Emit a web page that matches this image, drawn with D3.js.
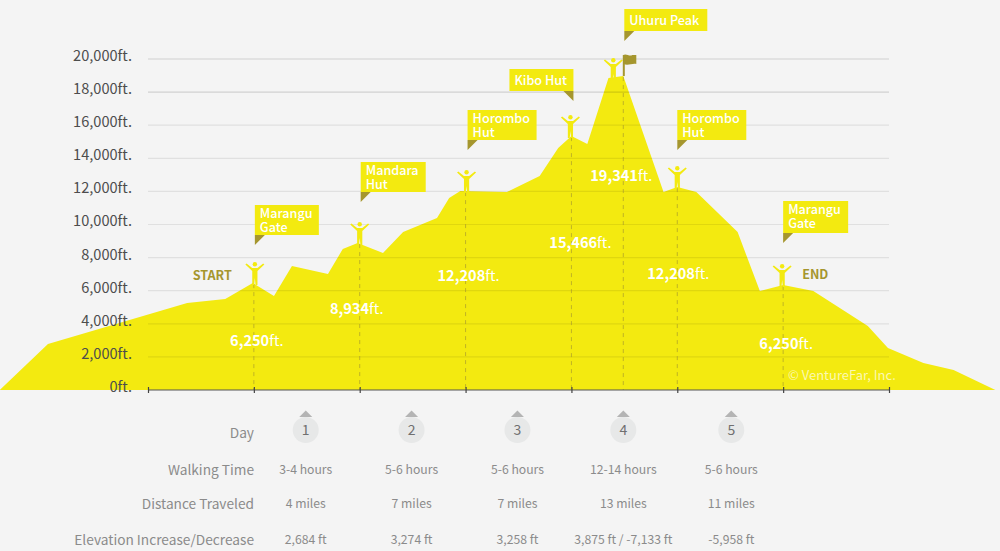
<!DOCTYPE html>
<html><head><meta charset="utf-8">
<script src="https://cdn.jsdelivr.net/npm/d3@7"></script>
<style>
html,body{margin:0;padding:0;background:#f4f4f4}
svg{display:block}
text{font-family:"Noto Sans CJK SC","Noto Sans",sans-serif}
</style></head><body><svg id="c" width="1000" height="551"></svg>
<script>
// Trail profile: position in stages (0 = first tick), elevation in feet
const trailPos = [-1.40,-0.945,0.37,0.73,0.99,1.19,1.36,1.70,1.84,1.98,2.22,2.41,2.73,2.845,2.95,3.39,3.70,3.875,4.00,4.15,4.35,4.49,4.87,5.00,5.18,5.57,5.78,6.00,6.285,6.80,6.99,7.325,7.61,8.005];
const elevation = [0,2780,5255,5500,6460,5680,7490,7010,8520,8880,8275,9540,10390,11600,12020,11960,12930,14620,15340,14860,18850,18970,11960,12260,11960,9540,5980,6340,5980,3870,2540,1630,1210,0];
const yTicks = [0,2000,4000,6000,8000,10000,12000,14000,16000,18000,20000];
const xTicks = [0,1,2,3,4,5,6,7];

// Stops
const stopPos = [1,2,3,4,4.49,5,6];
const stopTop = [6460,8880,12020,15340,18970,12260,6340];
const stopNames = [["Marangu","Gate"],["Mandara","Hut"],["Horombo","Hut"],["Kibo Hut"],["Uhuru Peak"],["Horombo","Hut"],["Marangu","Gate"]];
const stopHeights = ["6,250","8,934","12,208","15,466","19,341","12,208","6,250"];

// Table
const rowLabels = ["Day","Walking Time","Distance Traveled","Elevation Increase/Decrease"];
const days = ["1","2","3","4","5"];
const walking = ["3-4 hours","5-6 hours","5-6 hours","12-14 hours","5-6 hours"];
const distance = ["4 miles","7 miles","7 miles","13 miles","11 miles"];
const change = ["2,684 ft","3,274 ft","3,258 ft","3,875 ft / -7,133 ft","-5,958 ft"];
const dayCentres = [1.49,2.49,3.49,4.49,5.51];

const YEL="#f3ea10", OLIVE="#a5962e", GREY="#8b8b8b";
const svg=d3.select("#c");
const x=d3.scaleLinear().domain([0,7]).range([148,889]);
const y=d3.scaleLinear().domain([0,20000]).range([390,59]);

// Layout tables (pixel offsets of callouts, relative to their stop's x)
const boxes=[
 {dx:1,top:205,w:64,h:30,tail:"l"},{dx:1,top:162,w:65,h:30,tail:"l"},{dx:2,top:110,w:69,h:30,tail:"l"},
 {dx:-62,top:69,w:64,h:22,tail:"r"},{dx:1,top:9,w:83,h:22,tail:"l"},{dx:0,top:110,w:69,h:30,tail:"l"},{dx:0,top:201,w:65,h:32,tail:"l"}];
const labelPos=[{dx:3,y:346},{dx:-3,y:314},{dx:3,y:281},{dx:9,y:248},{dx:-2,y:181},{dx:1,y:279},{dx:3,y:349}];
const figDx=[1,0,1,-1,-10,0,-1];

// Area
const area=d3.area().x((d,i)=>x(trailPos[i])).y0(y(0)).y1((d)=>y(d)).curve(d3.curveLinear);
svg.append("path").datum(elevation).attr("d",area).attr("fill",YEL);

// Gridlines
svg.append("g").selectAll("line").data(yTicks.slice(1)).join("line")
 .attr("x1",x(0)).attr("x2",x(7)).attr("y1",d=>y(d)).attr("y2",d=>y(d))
 .attr("stroke","#000").attr("stroke-opacity",d=>d>=18000?.14:.08).attr("stroke-width",1.2);

// Y axis labels
const ya=svg.append("g").attr("transform",`translate(132,0)`)
 .call(d3.axisLeft(y).tickValues(yTicks).tickSize(0).tickPadding(0).tickFormat(d=>d3.format(",")(d)+"ft."));
ya.select(".domain").remove();
ya.selectAll("text").attr("font-size",14.6).attr("fill","#4d4d4d").attr("dy","0.1em");

// Dashed stop lines
svg.append("g").selectAll("line").data(stopPos).join("line")
 .attr("x1",d=>x(d)).attr("x2",d=>x(d)).attr("y1",(d,i)=>y(stopTop[i])+1).attr("y2",y(0))
 .attr("stroke",OLIVE).attr("stroke-width",1).attr("stroke-dasharray","4 4").attr("stroke-opacity",.65);

// X axis
const xa=svg.append("g").attr("transform",`translate(0,${y(0)})`)
 .call(d3.axisBottom(x).tickValues(xTicks).tickSize(3).tickFormat(""));
xa.select(".domain").attr("stroke","#555").attr("stroke-width",1.2).attr("d",`M${x(0)},0H${x(7)}`);
xa.selectAll(".tick line").attr("stroke","#444").attr("y1",-3).attr("y2",3).attr("stroke-width",1.2);

// Figures
const fig=svg.append("g").selectAll("g").data(stopPos).join("g")
 .attr("transform",(d,i)=>`translate(${x(d)+figDx[i]},${y(stopTop[i])+ (i==4?4:1)})`);
fig.append("path").attr("fill",YEL)
 .attr("d","M-9.5,-19.5 L-8.3,-20.6 L-2.6,-16 L2.6,-16 L8.3,-20.6 L9.5,-19.5 L2.6,-13 L2.6,-7 L2.6,1 L0.7,1 L0,-6 L-0.7,1 L-2.6,1 L-2.6,-7 L-2.6,-13 Z");
fig.append("circle").attr("cy",-19.8).attr("r",2.2).attr("fill",YEL);

// Flag
const fx=x(stopPos[4]), fy=y(stopTop[4]);
const flag=svg.append("g").attr("fill",OLIVE);
flag.append("rect").attr("x",fx-.5).attr("y",fy-21).attr("width",2).attr("height",21);
flag.append("path").attr("d",`M${fx},${fy-21} C${fx+3},${fy-23} ${fx+6},${fy-19} ${fx+9},${fy-21} L${fx+13},${fy-21} L${fx+13},${fy-12} C${fx+9},${fy-13} ${fx+5},${fy-10} ${fx},${fy-12} Z`);

// Callouts
const cg=svg.append("g").selectAll("g").data(stopNames).join("g")
 .attr("transform",(d,i)=>`translate(${x(stopPos[i])+boxes[i].dx},${boxes[i].top})`);
cg.append("path").attr("fill",OLIVE).attr("d",(d,i)=>{const b=boxes[i];
  return b.tail=="l"?`M0,${b.h}h10l-10,10z`:`M${b.w},${b.h}h-10l10,10z`;});
cg.append("rect").attr("width",(d,i)=>boxes[i].w).attr("height",(d,i)=>boxes[i].h).attr("fill",YEL);
cg.each(function(d,i){
  d3.select(this).selectAll("text").data(d).join("text")
   .attr("x",5).attr("y",(t,j)=>(d.length==1?16:13)+j*13.5)
   .attr("font-size",12.6).attr("font-weight",500).attr("fill","#fff").text(t=>t);
});

// Elevation labels
const hl=svg.append("g").selectAll("text").data(stopHeights).join("text")
 .attr("x",(d,i)=>x(stopPos[i])+labelPos[i].dx).attr("y",(d,i)=>labelPos[i].y)
 .attr("text-anchor","middle").attr("font-size",14.6).attr("fill","#fff");
hl.append("tspan").attr("font-weight",700).text(d=>d);
hl.append("tspan").attr("font-weight",400).text("ft.");

// START / END
svg.append("text").attr("x",x(1)-22).attr("y",280).attr("text-anchor","end").attr("font-size",12.6).attr("font-weight",700).attr("fill",OLIVE).text("START");
svg.append("text").attr("x",x(6)+19).attr("y",279).attr("font-size",12.6).attr("font-weight",700).attr("fill",OLIVE).text("END");

// Credit
svg.append("text").attr("x",788).attr("y",380).attr("font-size",13).attr("fill","#fbf8b0").text("© VentureFar, Inc.");

// Table labels
const rowY=[438,475,509,545];
svg.append("g").selectAll("text").data(rowLabels).join("text")
 .attr("x",254).attr("y",(d,i)=>rowY[i]).attr("text-anchor","end").attr("font-size",13.7).attr("fill",GREY).text(d=>d);

// Day badges
const dg=svg.append("g").selectAll("g").data(days).join("g").attr("transform",(d,i)=>`translate(${x(dayCentres[i])},430)`);
dg.append("circle").attr("r",13).attr("fill","#e7e8e8");
dg.append("path").attr("d","M-6.5,-13 L0,-19.5 L6.5,-13 Z").attr("fill","#b4b4b4");
dg.append("text").attr("y",5).attr("text-anchor","middle").attr("font-size",14).attr("fill","#707070").text(d=>d);

// Table values
[[walking,474],[distance,508],[change,544]].forEach(([arr,yy])=>{
 svg.append("g").selectAll("text").data(arr).join("text")
  .attr("x",(d,i)=>x(dayCentres[i])).attr("y",yy).attr("text-anchor","middle")
  .attr("font-size",12.2).attr("fill",GREY).text(d=>d);
});
</script></body></html>
